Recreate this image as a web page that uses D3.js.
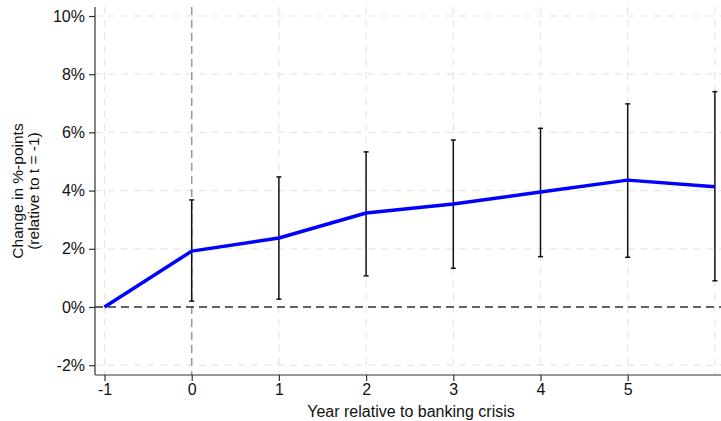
<!DOCTYPE html>
<html><head><meta charset="utf-8">
<script src="https://cdn.jsdelivr.net/npm/d3@7"></script>
<style>body{margin:0;background:#fff}svg{display:block}text{font-family:"Liberation Sans",Arial,sans-serif}</style>
</head><body>
<script>
const years = [-1, 0, 1, 2, 3, 4, 5, 6];
const estimates = [0, 1.92, 2.37, 3.23, 3.54, 3.95, 4.36, 4.13];
const ciLow = [null, 0.2, 0.27, 1.07, 1.33, 1.73, 1.71, 0.90];
const ciHigh = [null, 3.68, 4.47, 5.33, 5.74, 6.14, 6.98, 7.40];
const xTicks = [-1, 0, 1, 2, 3, 4, 5];
const yTicks = [-2, 0, 2, 4, 6, 8, 10];

const W = 721, H = 421;
const svg = d3.select("body").append("svg").attr("width", W).attr("height", H);
const x = d3.scaleLinear().domain([-1, 6]).range([104.5, 714.9]);
const y = d3.scaleLinear().domain([0, 10]).range([307, 16]);
const axisLeft = 95, axisBottom = 375, axisTop = 7;

// grid
const g = svg.append("g");
g.selectAll(".hg").data(yTicks).enter().append("line")
  .attr("x1", axisLeft).attr("x2", W).attr("y1", d => y(d)).attr("y2", d => y(d))
  .attr("stroke", "#e6e6e6").attr("stroke-width", 1.2).attr("stroke-dasharray", "7,6");
g.selectAll(".vg").data(years).enter().append("line")
  .attr("x1", d => x(d)).attr("x2", d => x(d)).attr("y1", axisTop).attr("y2", axisBottom)
  .attr("stroke", "#e6e6e6").attr("stroke-width", 1.2).attr("stroke-dasharray", "7,6");

// reference lines
svg.append("line").attr("x1", x(0)).attr("x2", x(0)).attr("y1", axisTop).attr("y2", axisBottom)
  .attr("stroke", "#9a9a9a").attr("stroke-width", 1.5).attr("stroke-dasharray", "8,5");
svg.append("line").attr("x1", axisLeft).attr("x2", W).attr("y1", y(0)).attr("y2", y(0))
  .attr("stroke", "#333").attr("stroke-width", 1.5).attr("stroke-dasharray", "8,5");

// axes
const fmtY = d => String(d) + "%";
const ya = svg.append("g").attr("transform", `translate(${axisLeft},0)`)
  .call(d3.axisLeft(y).tickValues(yTicks).tickFormat(fmtY).tickSize(6).tickPadding(4));
ya.select(".domain").remove();
ya.append("line").attr("x1", 0).attr("x2", 0).attr("y1", axisTop).attr("y2", axisBottom).attr("stroke", "#333").attr("stroke-width", 1.2);
const xa = svg.append("g").attr("transform", `translate(0,${axisBottom})`)
  .call(d3.axisBottom(x).tickValues(xTicks).tickFormat(d => String(d)).tickSize(6).tickPadding(3));
xa.select(".domain").remove();
xa.append("line").attr("x1", axisLeft).attr("x2", W).attr("y1", 0).attr("y2", 0).attr("stroke", "#333").attr("stroke-width", 1.2);
svg.selectAll(".tick text").attr("font-size", 16).attr("fill", "#111");
svg.selectAll(".tick line").attr("stroke", "#333").attr("stroke-width", 1.2);

// error bars
const ci = years.map((d, i) => ({x: d, lo: ciLow[i], hi: ciHigh[i]})).filter(d => d.lo !== null);
const eb = svg.append("g");
eb.selectAll(".v").data(ci).enter().append("line")
  .attr("x1", d => x(d.x)).attr("x2", d => x(d.x)).attr("y1", d => y(d.lo)).attr("y2", d => y(d.hi))
  .attr("stroke", "#111").attr("stroke-width", 1.5);
eb.selectAll(".c1").data(ci).enter().append("line")
  .attr("x1", d => x(d.x) - 2.5).attr("x2", d => x(d.x) + 2.5).attr("y1", d => y(d.lo)).attr("y2", d => y(d.lo))
  .attr("stroke", "#111").attr("stroke-width", 1.5);
eb.selectAll(".c2").data(ci).enter().append("line")
  .attr("x1", d => x(d.x) - 2.5).attr("x2", d => x(d.x) + 2.5).attr("y1", d => y(d.hi)).attr("y2", d => y(d.hi))
  .attr("stroke", "#111").attr("stroke-width", 1.5);

// line
svg.append("path").datum(years.map((d, i) => [d, estimates[i]]))
  .attr("fill", "none").attr("stroke", "#0000ff").attr("stroke-width", 3.5).attr("stroke-linejoin", "round")
  .attr("d", d3.line().x(d => x(d[0])).y(d => y(d[1])));

// labels
svg.append("text").attr("x", 411).attr("y", 417).attr("text-anchor", "middle").attr("font-size", 16).attr("fill", "#111")
  .text("Year relative to banking crisis");
const yl = svg.append("text").attr("transform", "translate(0,191) rotate(-90)").attr("text-anchor", "middle").attr("font-size", 15.5).attr("fill", "#111");
yl.append("tspan").attr("x", 0).attr("y", 23).text("Change in %-points");
yl.append("tspan").attr("x", 0).attr("y", 39).text("(relative to t = -1)");
</script>
</body></html>
